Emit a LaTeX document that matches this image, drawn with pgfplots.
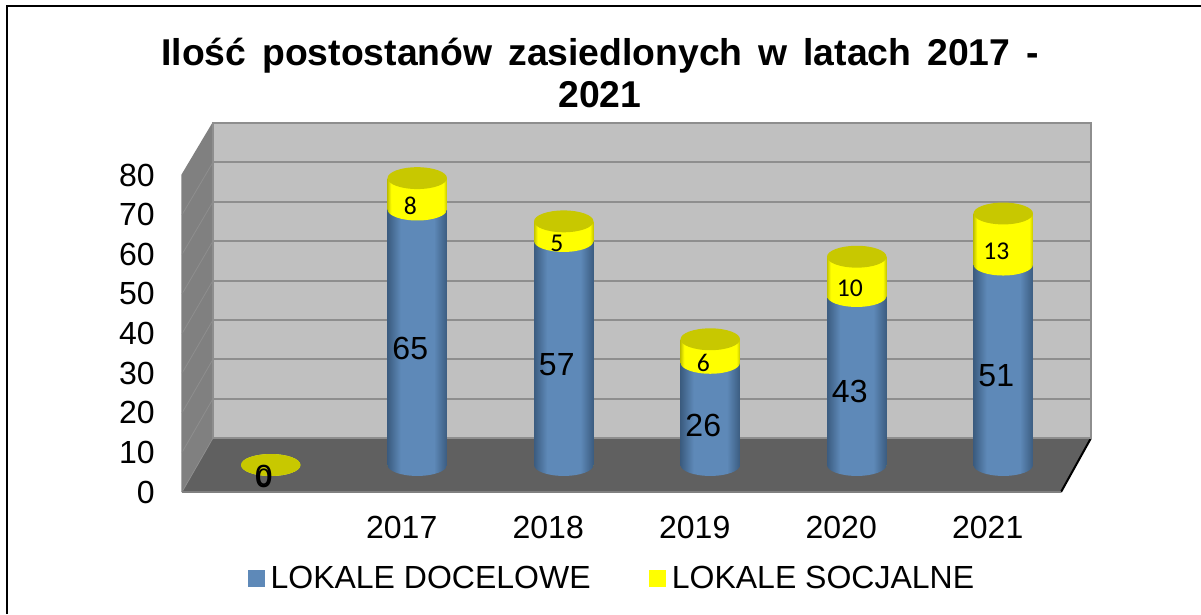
\documentclass[border=0pt]{standalone}
\usepackage{pgfplots}
\usepackage{pgfplotstable}
\usepackage{fontspec}
\pgfplotsset{compat=1.18}
\setmainfont{Liberation Sans}
\newfontfamily\calib{Carlito}
\definecolor{wallc}{HTML}{C0C0C0}
\definecolor{gridc}{HTML}{8E8E8E}
\definecolor{leftw}{HTML}{808080}
\definecolor{leftl}{HTML}{8E8E8E}
\definecolor{floorc}{HTML}{606060}
\definecolor{bE}{HTML}{3B5C80}
\definecolor{bM}{HTML}{5E89B8}
\definecolor{yE}{HTML}{C4C400}
\definecolor{yM}{HTML}{FFFF00}
\definecolor{yT}{HTML}{C8C800}
\pgfdeclarehorizontalshading{bluecyl}{100bp}{color(0bp)=(bE);color(25bp)=(bE);color(36bp)=(bM);color(64bp)=(bM);color(75bp)=(bE);color(100bp)=(bE)}
\pgfdeclarehorizontalshading{yelcyl}{100bp}{color(0bp)=(yE);color(25bp)=(yE);color(28bp)=(yM);color(72bp)=(yM);color(75bp)=(yE);color(100bp)=(yE)}
\pgfdeclareplotmark{bluebase}{\shade[draw=none,shading=bluecyl,rotate=3] (0pt,0pt) ellipse [x radius=22.3pt,y radius=8.2pt];}
\pgfdeclareplotmark{yelbase}{\shade[draw=none,shading=yelcyl,rotate=3] (0pt,0pt) ellipse [x radius=22.3pt,y radius=8.2pt];}
\pgfdeclareplotmark{yeltop}{\fill[draw=none,yT,rotate=3] (0pt,0pt) ellipse [x radius=22.3pt,y radius=8.2pt];}
\pgfplotstableread{
x doc soc
0 0 0
1 65 8
2 57 5
3 26 6
4 43 10
5 51 13
}\datatab
\begin{document}
\begin{tikzpicture}[x=.75pt,y=-.75pt]
\path[use as bounding box] (0,0) rectangle (1201,614);
\draw[black,line width=1.5pt] (7,614) -- (7,5.5) -- (1201,5.5);
% side wall and floor
\fill[leftw] (182,492) -- (182,175) -- (213,123) -- (213,438) -- cycle;
\fill[floorc] (182,492) -- (213,438) -- (1091,438) -- (1061,492) -- cycle;
\foreach \k in {1,...,7}{\draw[leftl,line width=.6pt] (182,{492-39.6*\k}) -- (213,{438-39.4*\k});}
\draw[leftl,line width=.6pt] (182,492) -- (213,438);
\draw[line width=1.5pt,black] (1091,438) -- (1061,492);
\draw[line width=1.5pt,leftw] (182,492) -- (1061,492);
\draw[line width=1pt,leftw] (182,492) -- (182,175) -- (213,123);
% back wall
\begin{axis}[at={(159.75pt,-328.5pt)},anchor=south west,scale only axis,
  width=658.5pt,height=236.25pt,xmin=0,xmax=1,ymin=0,ymax=80,
  xtick=\empty,ytick={0,10,...,80},yticklabels={},
  major tick length=0pt,
  ymajorgrids,grid style={gridc,line width=1.5pt},
  axis background/.style={fill=wallc},
  axis line style={gridc,line width=1.5pt}]
\end{axis}
% front frame: tick labels
\begin{axis}[at={(136.5pt,-369pt)},anchor=south west,scale only axis,
  width=659.25pt,height=237.75pt,xmin=-0.5,xmax=5.5,ymin=0,ymax=80,
  xtick={1,2,3,4,5},xticklabels={2017,2018,2019,2020,2021},
  ytick={0,10,...,80},
  /pgf/number format/assume math mode=true,
  major tick length=0pt,
  axis line style={draw=none},
  tick label style={font=\fontsize{24}{26}\selectfont},
  x tick label style={yshift=-14.5pt},
  y tick label style={xshift=-17pt,yshift=0pt}]
\end{axis}
% cylinders
\begin{axis}[at={(148.125pt,-348.75pt)},anchor=south west,scale only axis,
    width=659.25pt,height=235.8pt,
    xmin=-0.5,xmax=5.5,ymin=0,ymax=80,
    hide axis,clip=false,
  legend style={draw=none,fill=none,at={(0.0575,-0.36)},anchor=west,legend columns=2,
    inner sep=0pt,outer sep=0pt,
    font=\fontsize{24}{26}\selectfont,
    /tikz/every even column/.append style={column sep=42pt},
    /tikz/every odd column/.append style={column sep=2.5pt}},
  legend cell align=left]
\addlegendimage{legend image code/.code={\fill[bM] (0pt,-6pt) rectangle (12pt,6pt);}}
\addlegendentry{LOKALE DOCELOWE}
\addlegendimage{legend image code/.code={\fill[yM] (0pt,-6pt) rectangle (12pt,6pt);}}
\addlegendentry{LOKALE SOCJALNE}
\pgfplotsinvokeforeach{0,1,2,3,4,5}{
\addplot[forget plot,only marks,mark=bluebase,restrict x to domain=#1:#1] table[x=x,y expr=0] {\datatab};
\addplot[forget plot,ybar,bar width=44.55pt,bar shift=0pt,draw=none,shade,shading=yelcyl,restrict x to domain=#1:#1]
  table[x=x,y expr=\thisrow{doc}+\thisrow{soc}] {\datatab};
\addplot[forget plot,ybar,bar width=44.55pt,bar shift=0pt,draw=none,shade,shading=bluecyl,restrict x to domain=#1:#1]
  table[x=x,y=doc] {\datatab};
\addplot[forget plot,only marks,mark=yelbase,restrict x to domain=#1:#1] table[x=x,y=doc] {\datatab};
\addplot[forget plot,only marks,mark=yeltop,restrict x to domain=#1:#1] table[x=x,y expr=\thisrow{doc}+\thisrow{soc}] {\datatab};
}
\addplot[forget plot,only marks,mark=none,nodes near coords,point meta=explicit symbolic,
  nodes near coords style={anchor=center,xshift=-5.25pt,yshift=-8.5pt,font=\fontsize{24}{26}\selectfont,text=black}]
  table[x=x,y expr=\thisrow{doc}/2,meta=doc] {\datatab};
\addplot[forget plot,only marks,mark=none,nodes near coords,point meta=explicit symbolic,
  nodes near coords style={anchor=center,xshift=-5.25pt,yshift=-9pt,font=\calib\fontsize{19.2}{22}\selectfont,text=black}]
  table[x=x,y expr=\thisrow{doc}+\thisrow{soc}/2,meta=soc] {\datatab};
\end{axis}
% title
\node[align=center,font=\bfseries\fontsize{28}{32}\selectfont,anchor=center] at (600,73)
 {\spaceskip=11.9pt Ilość postostanów zasiedlonych w latach 2017 -\\2021};
\end{tikzpicture}
\end{document}
